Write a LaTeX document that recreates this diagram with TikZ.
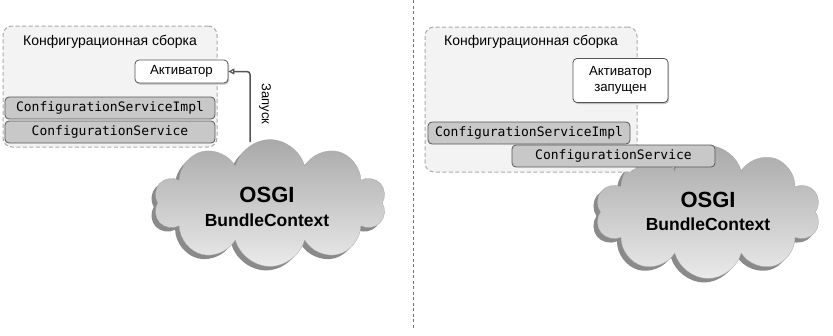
\documentclass[tikz,border=0pt]{standalone}
\usepackage{fontspec}
\setmainfont{Liberation Sans}
\setmonofont{DejaVu Sans Mono}
\usetikzlibrary{shapes.symbols,shadows,arrows.meta}
\definecolor{contfill}{HTML}{F3F3F3}
\definecolor{contline}{HTML}{AAAAAA}
\definecolor{boxline}{HTML}{555555}
\definecolor{monofill}{HTML}{C8C8C8}
\definecolor{cloudtop}{HTML}{A9A9A9}
\definecolor{cloudbot}{HTML}{EAEAEA}
\definecolor{cloudshadow}{HTML}{8A8A8A}
\begin{document}
\begin{tikzpicture}[x=1pt,y=-1pt,
  container/.style={draw=contline, fill=contfill, dashed, dash pattern=on 4pt off 2.5pt, line width=1pt, rounded corners=9pt, inner sep=0pt},
  title/.style={font=\fontsize{14}{16}\selectfont},
  actbox/.style={draw=boxline, fill=white, rounded corners=4pt, line width=0.8pt, inner sep=0pt, align=center, font=\fontsize{13.2}{16}\selectfont,
     drop shadow={shadow xshift=1pt, shadow yshift=-1.5pt, fill=black!40, opacity=0.6}},
  monobox/.style={draw=boxline, fill=monofill, rounded corners=4pt, line width=0.8pt, inner sep=0pt, font=\ttfamily\fontsize{13}{15}\selectfont},
  osgi/.style={cloud, cloud puffs=10, aspect=1.8, inner sep=0pt, draw=black!35, line width=0.3pt,
     top color=cloudtop, bottom color=cloudbot, align=center,
     drop shadow={shadow xshift=-4pt, shadow yshift=-4pt, fill=cloudshadow, opacity=1},
     font=\bfseries},
  link/.style={draw=boxline, line width=1.5pt, rounded corners=3pt, -{Triangle[open, length=6pt, width=6pt, line width=1.2pt]}},
  divider/.style={draw=black!55, line width=1pt, dash pattern=on 3pt off 2.5pt}
]
\useasboundingbox (0,0) rectangle (833,335);

% divider
\coordinate (dtop) at (413,0);
\coordinate (dbot) at (413,328);
\draw[divider] (dtop) -- (dbot);

% ---------- left panel ----------
\node[osgi, minimum width=232pt, minimum height=127pt] (cloud1) at (270,203) {};
\node[font=\bfseries\fontsize{22}{24}\selectfont] (osgi1) at (267,195) {OSGI};
\node[font=\bfseries\fontsize{17.5}{20}\selectfont] (bc1) at (267,220) {BundleContext};

\node[container, minimum width=214pt, minimum height=121pt] (cont1) at (110,86.5) {};
\node[title] (t1) at (110,42) {Конфигурационная сборка};
\node[actbox, minimum width=93pt, minimum height=23pt] (act1) at (181.5,71.5) {Активатор};
\node[monobox, minimum width=210pt, minimum height=22pt] (impl1) at (110,108) {ConfigurationServiceImpl};
\node[monobox, minimum width=210pt, minimum height=22pt] (svc1) at (110,132) {ConfigurationService};

\coordinate (a1) at (250,142);
\draw[link] (a1) |- (act1.east);
\node[rotate=-90, font=\fontsize{13}{14}\selectfont] (zap) at (265,104) {Запуск};

% ---------- right panel ----------
\node[osgi, minimum width=225pt, minimum height=133pt] (cloud2) at (708,212) {};
\node[font=\bfseries\fontsize{22}{24}\selectfont] (osgi2) at (708,200) {OSGI};
\node[font=\bfseries\fontsize{17.5}{20}\selectfont] (bc2) at (708,224) {BundleContext};

\node[container, minimum width=212pt, minimum height=145pt] (cont2) at (531,99.5) {};
\node[title] (t2) at (531,42) {Конфигурационная сборка};
\node[actbox, minimum width=95pt, minimum height=44pt] (act2) at (620.5,80.5) {Активатор\\запущен};
\node[monobox, minimum width=202pt, minimum height=22pt] (impl2) at (529,133) {ConfigurationServiceImpl};
\node[monobox, minimum width=203pt, minimum height=22pt] (svc2) at (613.5,156) {ConfigurationService};
\end{tikzpicture}
\end{document}
